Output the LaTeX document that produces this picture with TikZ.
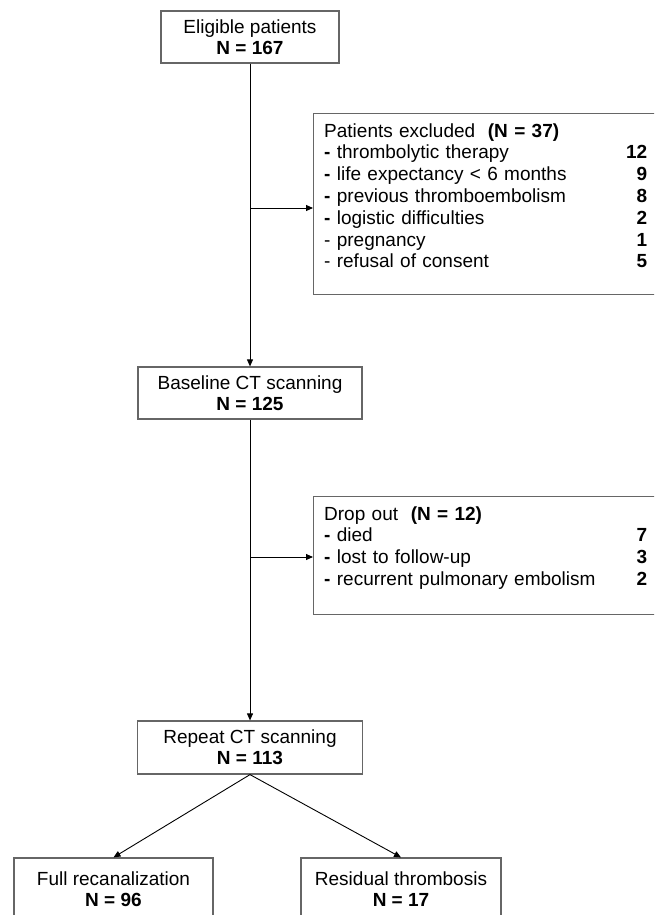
\documentclass[tikz,border=0pt]{standalone}
\usepackage{fontspec}
\setmainfont{Liberation Sans}
\usetikzlibrary{arrows.meta}
\begin{document}
\begin{tikzpicture}[x=1pt,y=-1pt,
  box/.style={draw=black!60,line width=1.2pt,rectangle,inner sep=0pt,align=center,
    font=\fontsize{19}{21}\selectfont},
  frame/.style={draw=black!60,line width=1.2pt,rectangle,inner sep=0pt,anchor=north west},
  listtext/.style={anchor=base west,inner sep=0pt,align=left,text width=323pt,
    font=\fontsize{19}{21.8}\selectfont},
  arr/.style={-{Triangle[length=7pt,width=6pt]},line width=0.9pt,black}]
\useasboundingbox (0,0) rectangle (654,915);
\clip (0,0) rectangle (654,915);

\node[box,minimum width=178pt,minimum height=52pt] (elig) at (250,37)
  {Eligible patients\\\textbf{N = 167}};
\node[box,minimum width=224pt,minimum height=52pt] (base) at (250,393)
  {Baseline CT scanning\\\textbf{N = 125}};
\node[box,minimum width=225pt,minimum height=53pt] (rep) at (250,747.5)
  {Repeat CT scanning\\\textbf{N = 113}};
\node[box,minimum width=199pt,minimum height=62pt] (full) at (113.5,889)
  {Full recanalization\\\textbf{N = 96}};
\node[box,minimum width=200pt,minimum height=62pt] (resid) at (401,889)
  {Residual thrombosis\\\textbf{N = 17}};

\node[frame,minimum width=360pt,minimum height=181pt] (excl) at (313,113) {};
\node[listtext] (excltext) at ([xshift=11pt,yshift=-24pt]excl.north west)
  {Patients excluded~~\textbf{(N = 37)}\\
   \textbf{-} thrombolytic therapy\hfill\textbf{12}\\
   \textbf{-} life expectancy < 6 months\hfill\textbf{9}\\
   \textbf{-} previous thromboembolism\hfill\textbf{8}\\
   \textbf{-} logistic difficulties\hfill\textbf{2}\\
   - pregnancy\hfill\textbf{1}\\
   - refusal of consent\hfill\textbf{5}};

\node[frame,minimum width=360pt,minimum height=118pt] (drop) at (313,496) {};
\node[listtext] (droptext) at ([xshift=11pt,yshift=-24pt]drop.north west)
  {Drop out~~\textbf{(N = 12)}\\
   \textbf{-} died\hfill\textbf{7}\\
   \textbf{-} lost to follow-up\hfill\textbf{3}\\
   \textbf{-} recurrent pulmonary embolism\hfill\textbf{2}};

\coordinate (j1) at (250,208);
\coordinate (j2) at (250,557);
\draw[arr] (elig.south) -- (base.north);
\draw[arr] (j1) -- (j1 -| excl.west);
\draw[arr] (base.south) -- (rep.north);
\draw[arr] (j2) -- (j2 -| drop.west);
\draw[arr] (rep.south) -- (full.north);
\draw[arr] (rep.south) -- (resid.north);
\end{tikzpicture}
\end{document}
